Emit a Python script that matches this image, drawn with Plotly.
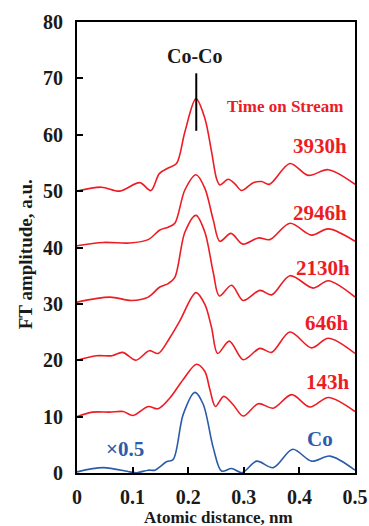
import plotly.graph_objects as go

# ---- data (x in nm, y in a.u., already offset) ----
x_3930 = [0.0, 0.044, 0.077, 0.113, 0.133, 0.148, 0.164, 0.179, 0.194, 0.214, 0.230, 0.242, 0.251, 0.257,
          0.272, 0.284, 0.296, 0.317, 0.332, 0.346, 0.383, 0.416, 0.452, 0.5]
y_3930 = [50.0, 50.7, 50.0, 51.5, 50.1, 53.1, 54.1, 54.9, 60.5, 66.4, 62.9, 57.0, 52.2, 51.1,
          52.1, 51.3, 50.1, 51.5, 51.7, 51.2, 54.9, 52.8, 53.8, 51.2]

x_2946 = [0.0, 0.047, 0.095, 0.128, 0.149, 0.164, 0.176, 0.194, 0.214, 0.230, 0.245, 0.257,
          0.277, 0.298, 0.326, 0.347, 0.383, 0.422, 0.452, 0.5]
y_2946 = [40.3, 40.9, 40.8, 41.4, 43.1, 43.6, 44.3, 50.2, 52.9, 50.5, 44.9, 41.1,
          42.5, 40.6, 41.7, 41.4, 44.3, 42.2, 43.3, 41.1]

x_2130 = [0.0, 0.059, 0.098, 0.128, 0.149, 0.164, 0.176, 0.194, 0.214, 0.230, 0.245, 0.256,
          0.278, 0.299, 0.329, 0.350, 0.383, 0.425, 0.452, 0.5]
y_2130 = [30.3, 31.2, 30.6, 31.2, 33.0, 33.6, 34.7, 42.7, 45.7, 42.7, 35.6, 31.4,
          33.3, 30.6, 32.4, 31.6, 35.0, 32.8, 34.1, 31.2]

x_646 = [0.0, 0.035, 0.063, 0.082, 0.106, 0.130, 0.146, 0.167, 0.185, 0.214, 0.230, 0.242, 0.253,
         0.274, 0.299, 0.329, 0.350, 0.383, 0.422, 0.452, 0.5]
y_646 = [20.0, 20.8, 20.8, 21.4, 20.0, 21.7, 21.2, 24.0, 27.0, 32.0, 29.9, 25.8, 21.2,
         23.4, 20.1, 22.1, 21.4, 25.0, 22.2, 23.9, 21.2]

x_143 = [0.0, 0.028, 0.059, 0.083, 0.101, 0.128, 0.146, 0.167, 0.191, 0.215, 0.230, 0.239, 0.249,
         0.264, 0.281, 0.299, 0.326, 0.353, 0.386, 0.419, 0.452, 0.5]
y_143 = [10.0, 10.8, 10.8, 10.9, 10.2, 11.8, 11.4, 13.3, 16.6, 19.3, 18.0, 14.8, 11.8,
         13.6, 12.1, 10.1, 12.3, 11.5, 13.9, 11.7, 13.4, 10.9]

x_co = [0.0, 0.047, 0.095, 0.107, 0.128, 0.140, 0.161, 0.173, 0.191, 0.212, 0.227, 0.245, 0.260,
        0.278, 0.297, 0.323, 0.353, 0.388, 0.422, 0.455, 0.5]
y_co = [0.2, 0.95, 0.2, 0.05, 0.5, 0.5, 2.0, 2.4, 10.4, 14.3, 12.2, 4.5, 0.35,
        0.8, 0.06, 2.1, 0.95, 4.2, 2.1, 3.0, 0.5]

series = [
    ("3930h", x_3930, y_3930),
    ("2946h", x_2946, y_2946),
    ("2130h", x_2130, y_2130),
    ("646h", x_646, y_646),
    ("143h", x_143, y_143),
]

x_ticks = [0, 0.1, 0.2, 0.3, 0.4, 0.5]
x_tick_text = ["0", "0.1", "0.2", "0.3", "0.4", "0.5"]
y_ticks = [0, 10, 20, 30, 40, 50, 60, 70, 80]

# label positions (data coords)
label_pos = {"3930h": (0.437, 58.0), "2946h": (0.437, 46.1), "2130h": (0.442, 36.4),
             "646h": (0.45, 26.6), "143h": (0.451, 16.2)}

RED = "#ED1C24"
BLUE = "#2B5BAA"
FONT = "Liberation Serif, Times New Roman, serif"

fig = go.Figure()
for name, xs, ys in series:
    fig.add_trace(go.Scatter(x=xs, y=ys, mode="lines", name=name,
                             line=dict(color=RED, width=1.6, shape="spline", smoothing=0.9)))
fig.add_trace(go.Scatter(x=x_co, y=y_co, mode="lines", name="Co",
                         line=dict(color=BLUE, width=1.6, shape="spline", smoothing=0.9)))

# Co-Co marker line
fig.add_shape(type="line", x0=0.2145, x1=0.2145, y0=60.7, y1=70.9,
              line=dict(color="black", width=2))

annots = [
    dict(x=0.212, y=73.9, text="<b>Co-Co</b>", font=dict(color="#1a1a1a", size=20)),
    dict(x=0.374, y=65.1, text="<b>Time on Stream</b>", font=dict(color=RED, size=17)),
    dict(x=0.437, y=6.0, text="<b>Co</b>", font=dict(color=BLUE, size=21)),
    dict(x=0.086, y=4.3, text="<b>×0.5</b>", font=dict(color=BLUE, size=21)),
]
for name, (lx, ly) in label_pos.items():
    annots.append(dict(x=lx, y=ly, text="<b>" + name + "</b>", font=dict(color=RED, size=21)))

for a in annots:
    fig.add_annotation(xref="x", yref="y", showarrow=False, xanchor="center", yanchor="middle",
                       font_family=FONT, **a)

# axis titles
fig.add_annotation(xref="paper", yref="paper", x=0.51, y=-0.098, showarrow=False,
                   xanchor="center", yanchor="middle",
                   text="<b>Atomic distance, nm</b>", font=dict(family=FONT, size=17, color="#1a1a1a"))
fig.add_annotation(xref="paper", yref="paper", x=-0.187, y=0.485, showarrow=False,
                   xanchor="center", yanchor="middle", textangle=-90,
                   text="<b>FT amplitude, a.u.</b>", font=dict(family=FONT, size=19, color="#1a1a1a"))

axis_common = dict(showline=True, linecolor="black", linewidth=2, mirror=True,
                   ticks="inside", tickcolor="black", tickwidth=2, ticklen=6,
                   showgrid=False, zeroline=False,
                   tickfont=dict(family=FONT, size=20, color="#1a1a1a", weight="bold"))

fig.update_xaxes(range=[0, 0.5], tickvals=x_ticks, ticktext=x_tick_text,
                 ticklabelstandoff=5, **axis_common)
fig.update_yaxes(range=[0, 80], tickvals=y_ticks, ticklabelstandoff=8, **axis_common)

fig.update_layout(
    width=369, height=526,
    margin=dict(l=77, r=14, t=22, b=53, autoexpand=False),
    plot_bgcolor="white", paper_bgcolor="white",
    showlegend=False,
    font=dict(family=FONT),
)

fig.write_html(
    "out.html",
    config={"displayModeBar": False},
    post_script="document.body.style.margin='0';document.body.style.overflow='hidden';",
)
